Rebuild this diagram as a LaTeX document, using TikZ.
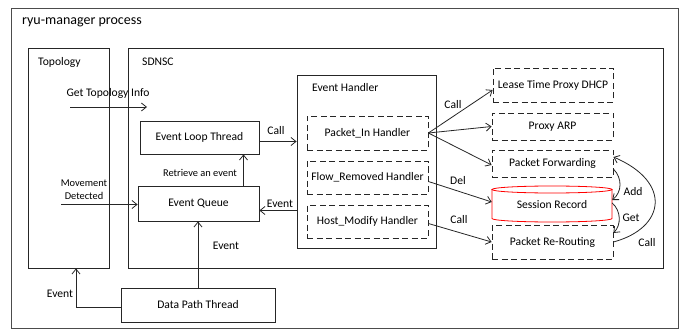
\documentclass[tikz,border=0pt]{standalone}
\usepackage{fontspec}
\setmainfont{Carlito}
\usetikzlibrary{arrows.meta}

\begin{document}
\begin{tikzpicture}[x=1pt,y=-1pt,
  font=\fontsize{11.6}{13}\selectfont,
  box/.style={draw=black!85, line width=0.8pt, inner sep=0pt},
  frame/.style={draw=black!70, line width=0.8pt, inner sep=0pt},
  dbox/.style={box, dash pattern=on 6pt off 3.5pt},
  arr/.style={draw=black!85, line width=0.8pt, -{Straight Barb[length=5pt,width=8pt]}},
  lbl/.style={inner sep=1pt},
  small/.style={font=\fontsize{10.4}{12.5}\selectfont}
]
\useasboundingbox (0,0) rectangle (687,331);

% containers
\node[frame, minimum width=667pt, minimum height=320pt] (outer) at (344.5,168) {};
\node[box, minimum width=81pt, minimum height=220pt] (topo) at (68.5,158) {};
\node[box, minimum width=535pt, minimum height=220pt] (sdnsc) at (395.5,158) {};
\node[box, minimum width=139pt, minimum height=173pt] (eh) at (366.5,161.5) {};

\node[lbl, anchor=west, font=\fontsize{14}{16}\selectfont] (ttl) at (21,22) {ryu-manager process};
\node[lbl, anchor=west] (ttopo) at (37,62) {Topology};
\node[lbl, anchor=west] (tsdnsc) at (141,62) {SDNSC};
\node[lbl, anchor=west] (teh) at (311,88) {Event Handler};

% threads and queue
\node[box, minimum width=119pt, minimum height=33pt] (elt) at (199.5,137.5) {Event Loop Thread};
\node[box, minimum width=121pt, minimum height=35pt] (eq) at (198.5,203.5) {Event Queue};
\node[box, minimum width=154pt, minimum height=34pt] (dpt) at (198,305) {Data Path Thread};

% handlers
\node[dbox, minimum width=121pt, minimum height=34pt] (pin) at (367.5,133) {Packet\_In Handler};
\node[dbox, minimum width=121pt, minimum height=33pt] (frh) at (367.5,177.5) {Flow\_Removed Handler};
\node[dbox, minimum width=121pt, minimum height=33pt] (hmh) at (367.5,221.5) {Host\_Modify Handler};

% services
\node[dbox, minimum width=120pt, minimum height=34pt] (ltd) at (553,85) {Lease Time Proxy DHCP};
\node[dbox, minimum width=121pt, minimum height=27pt] (parp) at (552.5,126.5) {Proxy ARP};
\node[dbox, minimum width=121pt, minimum height=27pt] (pf) at (552.5,163.5) {Packet Forwarding};
\node[dbox, minimum width=121pt, minimum height=34pt] (prr) at (552.5,242) {Packet Re-Routing};

% session record cylinder
\draw[red, line width=0.8pt] (552,189.5) ellipse [x radius=60pt, y radius=3.5pt];
\draw[red, line width=0.8pt] (492,189.5) -- (492,218.5)
  arc[start angle=180, end angle=360, x radius=60pt, y radius=3.5pt] -- (612,189.5);
\node[inner sep=0pt, minimum width=120pt, minimum height=36pt] (sr) at (552,205) {Session Record};

% left side connectors
\coordinate (gtiA) at (70,107);
\coordinate (gtiB) at (147,107);
\draw[arr] (gtiA) -- (gtiB);
\node[lbl] (lgti) at (108,93) {Get Topology Info};

\coordinate (mdA) at (61,204.5);
\draw[arr] (mdA) -- (mdA -| eq.west);
\node[lbl, small, align=center] (lmd) at (84,189.5) {Movement\\Detected};

\coordinate (callA) at ([yshift=-4pt]elt.east);
\draw[arr] (callA) -- (callA -| eh.west);
\node[lbl] (lcall1) at (276,131) {Call};

\coordinate (rq) at ([xshift=45pt]eq.north);
\draw[arr] (rq) -- (rq |- elt.south);
\node[lbl, small] (lrq) at (200,173) {Retrieve an event};

\coordinate (ev) at ([yshift=-7pt]eq.east);
\draw[arr] (ev -| eh.west) -- (ev);
\node[lbl] (lev1) at (280,204) {Event};

\draw[arr] (dpt.north) -- (dpt.north |- eq.south);
\node[lbl] (lev2) at (226,245.5) {Event};

\coordinate (tp) at ([xshift=7.5pt]topo.south);
\draw[arr] ([yshift=-2pt]dpt.west) -| (tp);
\node[lbl] (lev3) at (60,294) {Event};

% handler connectors
\draw[arr] (pin.east) -- ([yshift=-5pt]ltd.west);
\draw[arr] (pin.east) -- (parp.west);
\draw[arr] (pin.east) -- ([yshift=-1.5pt]pf.west);
\node[lbl] (lcall2) at (453,105) {Call};

\draw[arr] ([yshift=-4pt]frh.east) -- ([yshift=3pt]sr.west);
\node[lbl] (ldel) at (458,181) {Del};

\draw[arr] ([yshift=-2pt]hmh.east) -- (prr.west);
\node[lbl] (lcall3) at (459,220) {Call};

% session record access
\draw[arr] ([yshift=-5.5pt]pf.east) .. controls +(9,9) and +(10,-8) .. ([yshift=5pt]sr.east);
\node[lbl] (ladd) at (633,192) {Add};
\draw[arr] ([yshift=2pt]sr.east) .. controls +(9,8) and +(8,-8) .. ([yshift=9pt]prr.east);
\node[lbl] (lget) at (631,218) {Get};
\draw[arr] (prr.east) .. controls +(52,-14) and +(59,25) .. ([yshift=6.5pt]pf.east);
\node[lbl] (lcall4) at (647,243) {Call};
\end{tikzpicture}
\end{document}
